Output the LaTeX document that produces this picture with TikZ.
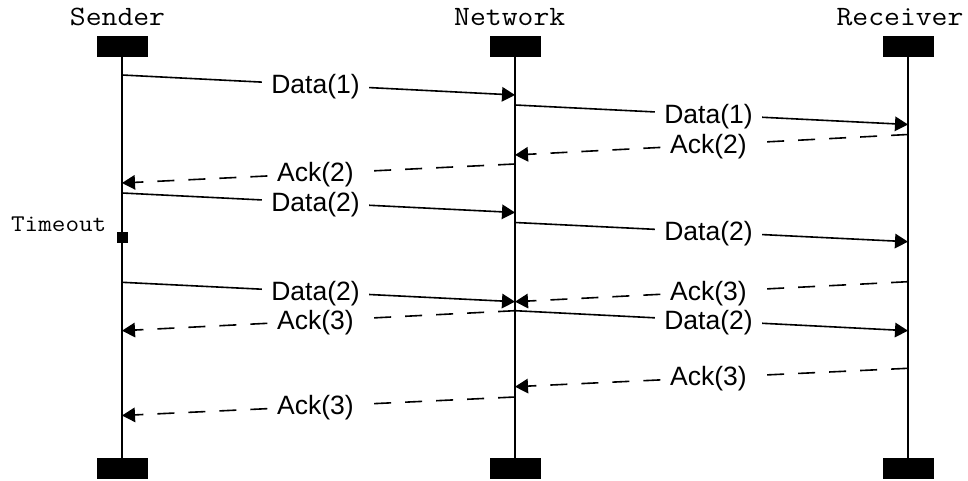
\documentclass[tikz,border=0pt]{standalone}
\usepackage{fontspec}
\setmainfont{Liberation Sans}
\newfontfamily\monofont[FakeStretch=1.1]{Latin Modern Mono}
\usetikzlibrary{arrows.meta}
\begin{document}
\begin{tikzpicture}[x=1pt,y=-1pt,
  head/.style={font=\monofont\fontsize{28}{30}\selectfont, inner sep=0pt, anchor=base},
  bar/.style={fill=black, minimum width=51pt, minimum height=21pt, inner sep=0pt},
  life/.style={line width=1.6pt},
  msg/.style={line width=1.6pt, -{Triangle[length=13pt,width=14.5pt]}},
  ackmsg/.style={msg, dash pattern=on 17pt off 14pt},
  lbl/.style={font=\fontsize{26.5}{30}\selectfont, fill=white, inner xsep=9pt,
              inner ysep=3pt, yshift=-1.5pt, xshift=-3pt},
]
\useasboundingbox (0,0) rectangle (968,481);

% participants
\node[head] (sname) at (117.5,26) {Sender};
\node[head] (nname) at (509.7,26) {Network};
\node[head] (rname) at (900,26) {Receiver};

\node[bar] (stop) at (122,46.5) {};
\node[bar] (ntop) at (515,46.5) {};
\node[bar] (rtop) at (908,46.5) {};
\node[bar] (sbot) at (122,468.5) {};
\node[bar] (nbot) at (515,468.5) {};
\node[bar] (rbot) at (908,468.5) {};

\draw[life] (stop.south) -- (sbot.north);
\draw[life] (ntop.south) -- (nbot.north);
\draw[life] (rtop.south) -- (rbot.north);

% timeout marker on the sender
\node[font=\monofont\fontsize{24}{26}\selectfont, anchor=base east, inner sep=0pt] (tolbl) at (106.5,231) {Timeout};
\node[fill=black, minimum size=11pt, inner sep=0pt] (tosq) at (122,237) {};

% message end points
\coordinate (m1s) at (122,75);     \coordinate (m1e) at (515,95);
\coordinate (m2s) at (515,105);    \coordinate (m2e) at (908,124.5);
\coordinate (m3s) at (908,134.5);  \coordinate (m3e) at (515,155);
\coordinate (m4s) at (515,164);    \coordinate (m4e) at (122,183);
\coordinate (m5s) at (122,193);    \coordinate (m5e) at (515,212.5);
\coordinate (m6s) at (515,222.5);  \coordinate (m6e) at (908,241.7);
\coordinate (m7s) at (122,282.3);  \coordinate (m7e) at (515,301.7);
\coordinate (m8s) at (908,281.7);  \coordinate (m8e) at (515,301.7);
\coordinate (m9s) at (515,310.7);  \coordinate (m9e) at (122,330.7);
\coordinate (m10s) at (515,310.7); \coordinate (m10e) at (908,330.7);
\coordinate (m11s) at (908,368.3); \coordinate (m11e) at (515,386.7);
\coordinate (m12s) at (515,397);   \coordinate (m12e) at (122,415.5);

% messages
\draw[msg] (m1s) -- node[lbl] (l1) {Data(1)} (m1e);
\draw[msg] (m2s) -- node[lbl] (l2) {Data(1)} (m2e);
\draw[ackmsg] (m3s) -- node[lbl] (l3) {Ack(2)} (m3e);
\draw[ackmsg] (m4s) -- node[lbl] (l4) {Ack(2)} (m4e);
\draw[msg] (m5s) -- node[lbl] (l5) {Data(2)} (m5e);
\draw[msg] (m6s) -- node[lbl] (l6) {Data(2)} (m6e);
\draw[msg] (m7s) -- node[lbl] (l7) {Data(2)} (m7e);
\draw[ackmsg] (m8s) -- node[lbl] (l8) {Ack(3)} (m8e);
\draw[ackmsg] (m9s) -- node[lbl] (l9) {Ack(3)} (m9e);
\draw[msg] (m10s) -- node[lbl] (l10) {Data(2)} (m10e);
\draw[ackmsg] (m11s) -- node[lbl] (l11) {Ack(3)} (m11e);
\draw[ackmsg] (m12s) -- node[lbl] (l12) {Ack(3)} (m12e);
\end{tikzpicture}
\end{document}
